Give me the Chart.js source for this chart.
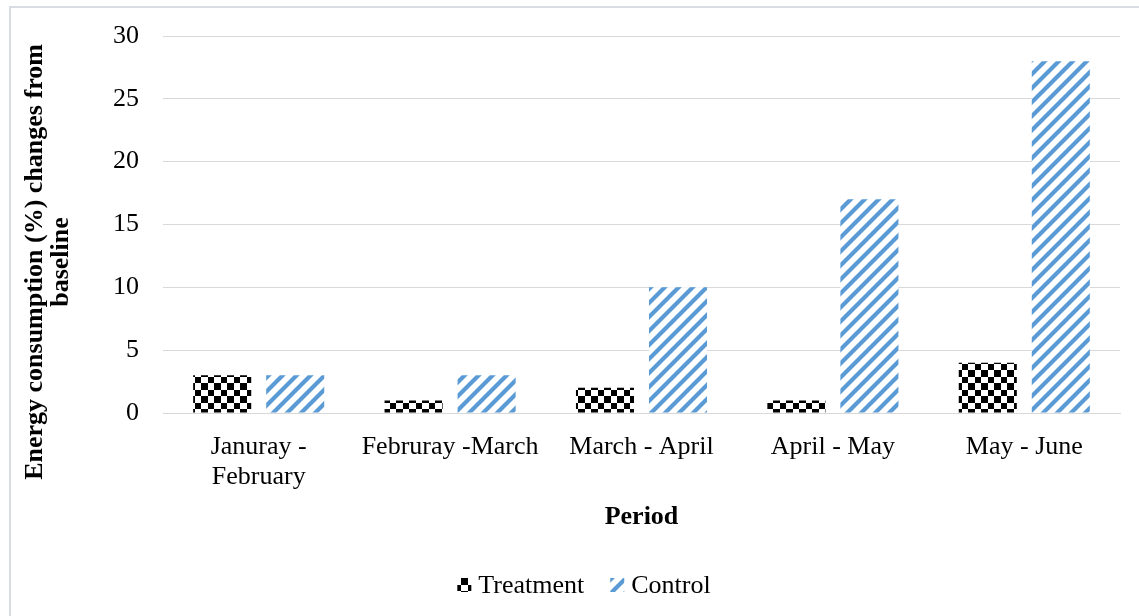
<!DOCTYPE html>
<html>
<head>
<meta charset="utf-8">
<script src="https://cdn.jsdelivr.net/npm/chart.js@4.4.1/dist/chart.umd.min.js"></script>
<style>
  html, body { margin: 0; padding: 0; background: #ffffff; }
  #wrap { width: 1139px; height: 616px; position: relative; }
</style>
</head>
<body>
<div id="wrap"><canvas id="chart" width="1139" height="616"></canvas></div>
<script>
// Periods compared against the baseline
const periods = [
  ['Januray -', 'February'],
  'Februray -March',
  'March - April',
  'April - May',
  'May - June'
];
// Energy consumption change from baseline (%)
const treatment = [3, 1, 2, 1, 4];
const control = [3, 3, 10, 17, 28];
const yTicks = [0, 5, 10, 15, 20, 25, 30];

const SERIF = '"Liberation Serif", "Times New Roman", Times, serif';
const GRID = '#d9d9d9';

// Black/white checkerboard fill (cells alternate 6 and 7 px wide)
function checkerPattern() {
  const c = document.createElement('canvas');
  const edges = [0, 6, 13, 19, 26];
  c.width = 26; c.height = 26;
  const g = c.getContext('2d');
  g.fillStyle = '#ffffff';
  g.fillRect(0, 0, 26, 26);
  g.fillStyle = '#000000';
  for (let r = 0; r < 4; r++) {
    for (let k = 0; k < 4; k++) {
      if ((r + k) % 2 === 0) {
        g.fillRect(edges[k], edges[r], edges[k + 1] - edges[k], edges[r + 1] - edges[r]);
      }
    }
  }
  return g.createPattern(c, 'repeat');
}

// Blue upward diagonal stripes on white
function stripePattern() {
  const c = document.createElement('canvas');
  const s = 14;
  c.width = s; c.height = s;
  const g = c.getContext('2d');
  g.fillStyle = '#ffffff';
  g.fillRect(0, 0, s, s);
  g.strokeStyle = '#5b9bd5';
  g.lineWidth = 4.2;
  g.beginPath();
  g.moveTo(-2, s + 2); g.lineTo(s + 2, -2);
  g.moveTo(-2, 2); g.lineTo(2, -2);
  g.moveTo(s - 2, s + 2); g.lineTo(s + 2, s - 2);
  g.stroke();
  return g.createPattern(c, 'repeat');
}

const fills = [checkerPattern(), stripePattern()];

// Frame, rotated y-axis title and legend
const decorations = {
  id: 'decorations',
  beforeDraw(chart) {
    const ctx = chart.ctx;
    ctx.save();
    ctx.fillStyle = '#ffffff';
    ctx.fillRect(0, 0, chart.width, chart.height);
    ctx.strokeStyle = '#d9dde3';
    ctx.lineWidth = 2;
    ctx.beginPath();
    ctx.moveTo(10, chart.height);
    ctx.lineTo(10, 7);
    ctx.lineTo(chart.width, 7);
    ctx.stroke();
    ctx.restore();
  },
  afterDraw(chart) {
    const ctx = chart.ctx;
    ctx.save();
    // y-axis title
    ctx.translate(0, 262);
    ctx.rotate(-Math.PI / 2);
    ctx.fillStyle = '#000000';
    ctx.font = 'bold 26px ' + SERIF;
    ctx.textAlign = 'center';
    ctx.textBaseline = 'middle';
    ctx.fillText('Energy consumption (%) changes from', 0, 35);
    ctx.fillText('baseline', 0, 61);
    ctx.restore();

    // legend
    ctx.save();
    ctx.font = '26px ' + SERIF;
    ctx.textBaseline = 'middle';
    ctx.textAlign = 'left';
    const box = 14, gap = 7, between = 26, cy = 585;
    const items = chart.data.datasets.map(d => ({
      label: d.label, fill: d.backgroundColor, w: ctx.measureText(d.label).width
    }));
    let total = 0;
    items.forEach((it, i) => { total += box + gap + it.w + (i ? between : 0); });
    let x = 584 - total / 2;
    items.forEach((it, i) => {
      if (i) x += between;
      ctx.fillStyle = it.fill;
      ctx.fillRect(x, cy - box / 2, box, box);
      x += box + gap;
      ctx.fillStyle = '#000000';
      ctx.fillText(it.label, x, cy + 1);
      x += it.w;
    });
    ctx.restore();
  }
};

new Chart(document.getElementById('chart'), {
  type: 'bar',
  data: {
    labels: periods,
    datasets: [
      { label: 'Treatment', data: treatment, backgroundColor: fills[0], borderWidth: 0 },
      { label: 'Control', data: control, backgroundColor: fills[1], borderWidth: 0 }
    ]
  },
  options: {
    responsive: false,
    animation: false,
    devicePixelRatio: 1,
    layout: { padding: { top: 36, right: 19, bottom: 83, left: 0 } },
    datasets: { bar: { barPercentage: 0.795, categoryPercentage: 0.763 } },
    plugins: {
      legend: { display: false },
      tooltip: { enabled: false },
      title: { display: false }
    },
    scales: {
      x: {
        grid: { display: false },
        border: { display: true, color: GRID, width: 1 },
        ticks: {
          color: '#000000',
          font: { family: SERIF, size: 26, lineHeight: 1.16 },
          padding: 11,
          maxRotation: 0,
          autoSkip: false
        },
        title: {
          display: true,
          text: 'Period',
          color: '#000000',
          font: { family: SERIF, size: 26, weight: 'bold', lineHeight: 1.2 },
          padding: { top: 0, bottom: 0 }
        },
        afterFit(scale) {
          scale.height = 120;
          scale.paddingLeft = 0;
          scale.paddingRight = 0;
        }
      },
      y: {
        min: 0,
        max: 30,
        afterBuildTicks(scale) { scale.ticks = yTicks.map(v => ({ value: v })); },
        grid: { color: GRID, lineWidth: 1, drawTicks: false },
        border: { display: false },
        ticks: {
          color: '#000000',
          font: { family: SERIF, size: 26 },
          padding: 24
        },
        afterFit(scale) {
          scale.width = 163;
          scale.paddingTop = 0;
          scale.paddingBottom = 0;
        }
      }
    }
  },
  plugins: [decorations]
});
</script>
</body>
</html>
